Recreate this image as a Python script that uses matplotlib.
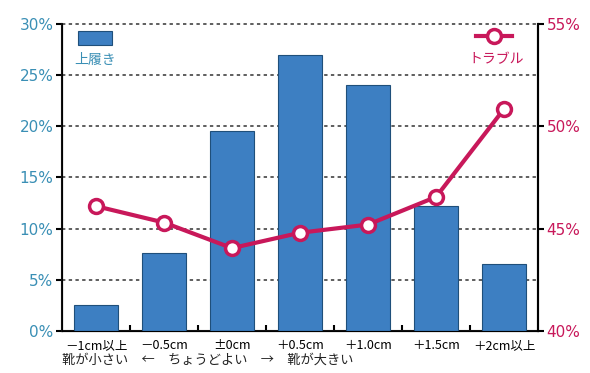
import matplotlib
matplotlib.use("Agg")
import matplotlib.pyplot as plt
import numpy as np

plt.rcParams['font.family'] = ['Noto Sans CJK JP', 'DejaVu Sans']

categories = ["－1cm以上", "－0.5cm", "±0cm", "＋0.5cm", "＋1.0cm", "＋1.5cm", "＋2cm以上"]
uwabaki = [2.5, 7.6, 19.5, 27.0, 24.0, 12.2, 6.5]
trouble = [46.1, 45.3, 44.05, 44.8, 45.2, 46.55, 50.85]
left_ticks = [0, 5, 10, 15, 20, 25, 30]
right_ticks = [40, 45, 50, 55]

bar_color = "#3d7fc2"
bar_edge = "#1f4f7a"
line_color = "#c8185a"
left_lbl = "#3a8fb5"
right_lbl = "#c8185a"
num_font = ['DejaVu Sans', 'Noto Sans CJK JP']

fig = plt.figure(figsize=(5.9, 3.73), dpi=100)
ax = fig.add_axes([0.105, 0.1126, 0.807, 0.8231])
x = np.arange(len(categories))
ax.bar(x, uwabaki, width=0.65, color=bar_color, edgecolor=bar_edge, linewidth=0.8, zorder=3)
ax.set_xlim(-0.5, len(categories) - 0.5)
ax.set_ylim(0, 30)
ax.set_yticks(left_ticks)
ax.set_yticklabels([f"{t}%" for t in left_ticks], color=left_lbl, fontsize=11, family=num_font)
for t in left_ticks[1:]:
    ax.axhline(t, color="#333333", linestyle=(0, (2.2, 2.2)), linewidth=1.1, zorder=1, clip_on=False)
ax.set_xticks(x)
ax.set_xticklabels(categories, fontsize=9)
ax.tick_params(axis='x', length=0, pad=13)
for lbl in ax.get_xticklabels():
    lbl.set_verticalalignment('baseline')
ax.set_xticks(np.arange(0.5, len(categories) - 0.5, 1), minor=True)
ax.tick_params(axis='x', which='minor', direction='in', length=4, width=1.5)
ax.tick_params(axis='y', direction='out', length=4, width=1.5, pad=2)
ax.spines['top'].set_visible(False)
for s in ['left', 'right', 'bottom']:
    ax.spines[s].set_linewidth(1.5)
    ax.spines[s].set_color('#111111')

ax2 = ax.twinx()
ax2.set_ylim(40, 55)
ax2.set_yticks(right_ticks)
ax2.set_yticklabels([f"{t}%" for t in right_ticks], color=right_lbl, fontsize=11, family=num_font)
ax2.tick_params(axis='y', direction='out', length=4, width=1.5, pad=2)
ax2.spines['top'].set_visible(False)
ax2.spines['right'].set_linewidth(1.5)
ax2.plot(x, trouble, color=line_color, linewidth=3, marker='o', markersize=10,
         markerfacecolor='white', markeredgecolor=line_color, markeredgewidth=2.5, zorder=5)

# legends
fig.patches.append(plt.Rectangle((78/590, 1-45/373), 34/590, 14/373, transform=fig.transFigure,
                                 facecolor=bar_color, edgecolor=bar_edge, linewidth=0.8))
fig.text(95/590, 1-60/373, "上履き", color=left_lbl, fontsize=10, ha='center', va='center')
fig.lines.append(plt.Line2D([476/590, 512/590], [1-36/373, 1-36/373], transform=fig.transFigure,
                            color=line_color, linewidth=3, marker=None))
fig.lines.append(plt.Line2D([494/590], [1-36/373], transform=fig.transFigure, color=line_color,
                            marker='o', markersize=10, markerfacecolor='white',
                            markeredgecolor=line_color, markeredgewidth=2.5))
fig.text(496/590, 1-59/373, "トラブル", color=right_lbl, fontsize=10, ha='center', va='center')

fig.text(62/590, 1-360/373, "靴が小さい　←　ちょうどよい　→　靴が大きい", fontsize=9.5,
         ha='left', va='center', color='#222222')

fig.savefig("out.png", dpi=100)
